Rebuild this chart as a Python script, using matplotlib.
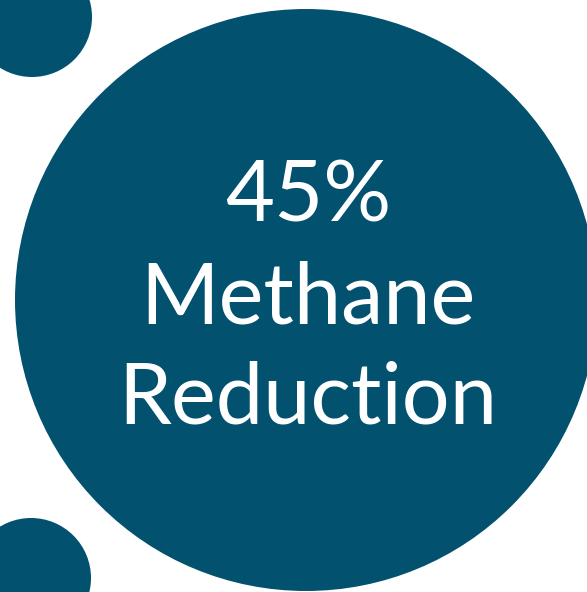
import matplotlib.pyplot as plt
from matplotlib.patches import Circle

# Text lines shown in the big circle
lines = ["45%", "Methane", "Reduction"]

W, H = 587, 592
color = "#01516F"

fig = plt.figure(figsize=(W / 100, H / 100), dpi=100)
ax = fig.add_axes([0, 0, 1, 1])
ax.set_xlim(0, W)
ax.set_ylim(H, 0)
ax.set_aspect("equal")
ax.axis("off")

# Big circle and the two small corner circles
ax.add_patch(Circle((306, 300), 291, color=color, lw=0))
ax.add_patch(Circle((32, 17), 60, color=color, lw=0))
ax.add_patch(Circle((31, 578), 60, color=color, lw=0))

# Text, one line at a time
ys = [197, 299, 400]
for txt, y in zip(lines, ys):
    ax.text(308, y, txt, color="white", fontsize=61, family="Lato",
            ha="center", va="center")

fig.savefig("out.png", dpi=100)
